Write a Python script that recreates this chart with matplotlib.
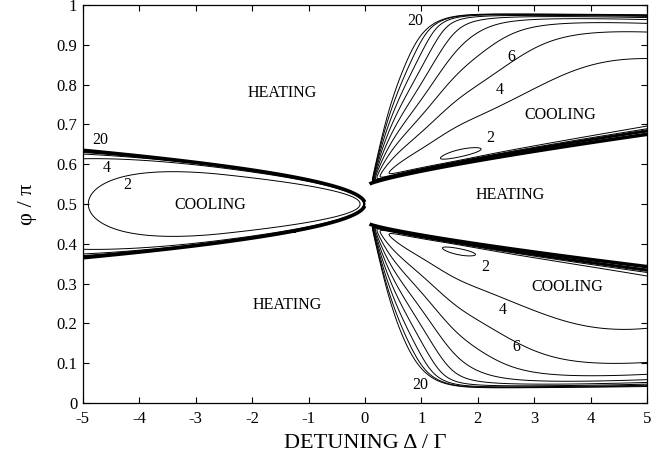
import numpy as np
import matplotlib.pyplot as plt

plt.rcParams['font.family'] = ['Liberation Serif', 'DejaVu Serif']

# contour levels of the temperature map and tick values
levels = [2, 4, 6, 8, 10, 12, 14, 16, 18, 20]
x_ticks = [-5, -4, -3, -2, -1, 0, 1, 2, 3, 4, 5]
x_labels = ['-5', '-4', '-3', '-2', '-1', '0', '1', '2', '3', '4', '5']
y_ticks = [0, 0.1, 0.2, 0.3, 0.4, 0.5, 0.6, 0.7, 0.8, 0.9, 1]
y_labels = ['0', '0.1', '0.2', '0.3', '0.4', '0.5', '0.6', '0.7', '0.8', '0.9', '1']

# grid: detuning Delta/Gamma and phase phi/pi
D = np.linspace(-5, 5, 1601)
P = np.linspace(0, 1, 1201)
DD, PP = np.meshgrid(D, P)
T = np.full(DD.shape, 1e3)   # heating region -> no finite temperature

# red detuned lobe (cooling around phi = pi/2)
ad = np.abs(DD)
w = 0.135 * np.sqrt(ad / 5)
d = PP - 0.5
r2 = (d / np.maximum(w, 1e-9)) ** 2
T0 = 1.2 + 0.85 * np.clip(ad - 2.5, 0, None) ** 2 / 6.25 + 0.07 / np.maximum(ad, 1e-3)
left = (DD < 0) & (r2 < 1)
T[left] = (T0 / np.abs(1 - r2) ** 0.535)[left]

# blue detuned lobes (upper and lower), empirical temperature model
x = DD - 0.08
xs = np.maximum(x, 1e-3)
F = 1 + (0.437 / xs) ** 1.25 * np.exp(-(xs / 1.3) ** 4)
m = 45 * np.exp(-(xs / 2.6) ** 1.5)
p = 2.35e-4 * (xs / 1.6)
c = 0.72 * (xs / 5) ** 1.1
t0 = 0.75
inner = []
# (side, inner slope, outer width, diffusion factor, friction factor)
for sgn, ka, kb, kc, km in [(1, 0.035, 0.43, 1.0, 1.0), (-1, 0.03, 0.415, 1.25, 0.95)]:
    dd = sgn * (PP - 0.5)
    a = 0.05 + ka * xs ** 0.8
    b = 0.05 + kb * (1 - np.exp(-(xs / 0.5) ** 1.3))
    u = dd - a
    v = b - dd
    ok = (x > 0) & (u > 0) & (v > 0)
    uu = np.where(ok, u, 1)
    vv = np.where(ok, v, 1)
    val = F * (p / uu ** 2 + t0 + kc * c / vv ** 0.6 + km * m * uu)
    val -= 0.5 * np.exp(-((xs - 1.55) / 0.55) ** 2 - ((uu - 0.025) / 0.02) ** 2)
    T[ok] = val[ok]
    inner.append(u)

fig = plt.figure(figsize=(6.63, 4.59), dpi=100)
ax = fig.add_axes([0.125, 0.122, 0.851, 0.867])

ax.contour(DD, PP, T, levels=levels, colors='black', linewidths=0.7)

# heating / cooling boundaries
zl = np.ma.masked_where(DD >= 0, np.abs(d) - w)
ax.contour(DD, PP, zl, levels=[0], colors='black', linewidths=2.6)
zr = np.ma.masked_where(x <= 0, np.maximum(inner[0], inner[1]))
ax.contour(DD, PP, zr, levels=[0], colors='black', linewidths=2.6)

tfs = 11.5
ax.text(-1.47, 0.779, 'HEATING', ha='center', va='center', fontsize=tfs)
ax.text(-2.75, 0.497, 'COOLING', ha='center', va='center', fontsize=tfs)
ax.text(-1.37, 0.246, 'HEATING', ha='center', va='center', fontsize=tfs)
ax.text(2.57, 0.523, 'HEATING', ha='center', va='center', fontsize=tfs)
ax.text(3.46, 0.724, 'COOLING', ha='center', va='center', fontsize=tfs)
ax.text(3.58, 0.291, 'COOLING', ha='center', va='center', fontsize=tfs)

lfs = 11.5
ax.text(-4.70, 0.66, '20', ha='center', va='center', fontsize=lfs)
ax.text(-4.57, 0.59, '4', ha='center', va='center', fontsize=lfs)
ax.text(-4.22, 0.548, '2', ha='center', va='center', fontsize=lfs)
ax.text(0.89, 0.96, '20', ha='center', va='center', fontsize=lfs)
ax.text(2.59, 0.87, '6', ha='center', va='center', fontsize=lfs)
ax.text(2.39, 0.786, '4', ha='center', va='center', fontsize=lfs)
ax.text(2.22, 0.666, '2', ha='center', va='center', fontsize=lfs)
ax.text(2.13, 0.342, '2', ha='center', va='center', fontsize=lfs)
ax.text(2.45, 0.234, '4', ha='center', va='center', fontsize=lfs)
ax.text(2.69, 0.141, '6', ha='center', va='center', fontsize=lfs)
ax.text(0.975, 0.045, '20', ha='center', va='center', fontsize=lfs)

ax.set_xlim(-5, 5)
ax.set_ylim(0, 1)
ax.set_xticks(x_ticks)
ax.set_xticklabels(x_labels)
ax.set_yticks(y_ticks)
ax.set_yticklabels(y_labels)
ax.tick_params(direction='in', length=4, width=0.8, top=True, right=True,
               labelsize=12)
ax.tick_params(axis='x', pad=6)
ax.tick_params(axis='y', pad=4)
for s in ax.spines.values():
    s.set_linewidth(0.9)

ax.set_xlabel('DETUNING Δ / Γ', fontsize=16, labelpad=5)
ax.set_ylabel('φ / π', fontsize=16, labelpad=14)

fig.savefig('out.png', dpi=100)
